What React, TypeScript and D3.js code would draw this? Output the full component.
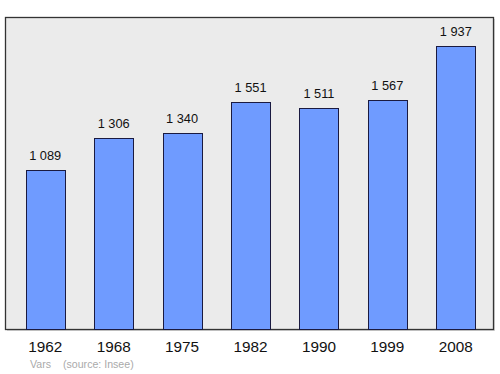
import React from "react";
import * as d3 from "d3";

const years = ["1962", "1968", "1975", "1982", "1990", "1999", "2008"];
const population = [1089, 1306, 1340, 1551, 1511, 1567, 1937];
const valueLabels = ["1 089", "1 306", "1 340", "1 551", "1 511", "1 567", "1 937"];

export default function App() {
  const W = 500, H = 374;
  const left = 5.5, right = 493.5, top = 17.5, bottom = 329.5;
  const x = d3.scaleBand<string>().domain(years).range([11, 490]).paddingInner(0.43).paddingOuter(0.215);
  const y = d3.scaleLinear().domain([0, d3.max(population)! * 1.1]).range([bottom, top]);
  return (
    <svg width={W} height={H} style={{ position: "absolute", left: 0, top: 0, fontFamily: "'Liberation Sans', Arial, sans-serif" }}>
      <rect x={left + 1.5} y={top + 1.5} width={right - left} height={bottom - top} fill="#b0b0b0" opacity={0.5} />
      <rect x={left} y={top} width={right - left} height={bottom - top} fill="#ebebeb" stroke="#333" strokeWidth={1.3} />
      {years.map((yr, i) => {
        const bx = x(yr)!;
        const bw = x.bandwidth();
        const by = y(population[i]);
        return (
          <g key={yr}>
            <rect x={Math.round(bx) + 0.5} y={Math.round(by) + 0.5} width={Math.round(bw)} height={bottom - Math.round(by) - 0.5} fill="#6f9bff" stroke="#1a1a40" strokeWidth={1} />
            <text x={bx + bw / 2} y={by - 10} textAnchor="middle" fontSize={12.8} fill="#111">{valueLabels[i]}</text>
            <text x={bx + bw / 2} y={352} textAnchor="middle" fontSize={15.3} fill="#111">{yr}</text>
          </g>
        );
      })}
      <text x={30} y={368} fontSize={10.6} fill="#aaa">Vars</text>
      <text x={63} y={368} fontSize={10.6} fill="#aaa">(source: Insee)</text>
    </svg>
  );
}
